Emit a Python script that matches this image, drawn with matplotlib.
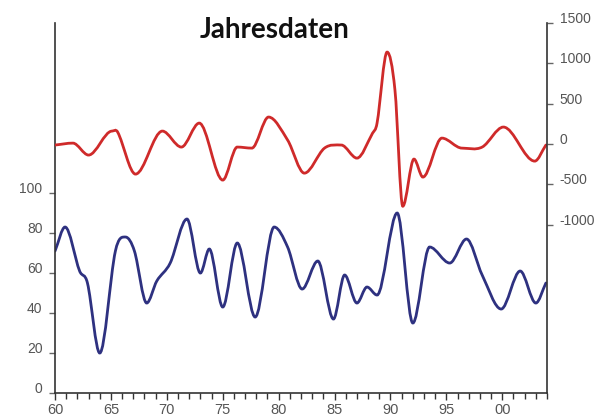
import numpy as np
import matplotlib
matplotlib.use("Agg")
import matplotlib.pyplot as plt
from matplotlib.path import Path
from matplotlib.patches import PathPatch

# ----------------------------------------------------
# Data
# ----------------------------------------------------

red_years = [60.0, 61.6, 63.0, 65.1, 65.6, 67.2, 69.6, 71.3, 72.9, 75.0,
             76.3, 77.6, 79.1, 80.8, 82.3, 84.1, 85.6, 87.0, 88.4, 88.8,
             89.7, 90.4, 91.1, 92.1, 92.9, 94.6, 96.4, 98.2, 100.1, 102.9,
             103.9]
red_values = [-12, 12, -136, 161, 149, -372, 161, -37, 260, -446,
              -37, -50, 335, 50, -360, -50, -12, -174, 136, 260,
              1140, 670, -770, -186, -409, 74, -50, -37, 211, -211,
              -12]

blue_years = [60.0, 60.9, 62.2, 62.9, 64.0, 65.4, 66.3, 67.1, 68.2, 69.1,
              70.3, 71.8, 73.0, 73.8, 75.0, 76.3, 77.9, 79.6, 80.8, 82.1,
              83.5, 84.9, 85.9, 87.0, 87.9, 88.8, 90.6, 92.0, 93.5, 95.3,
              96.8, 98.2, 99.9, 101.6, 103.0, 103.9]
blue_values = [71, 83, 61, 55, 20, 71, 78, 71, 45, 56,
               65, 87, 60, 72, 43, 75, 38, 83, 73, 52,
               66, 37, 59, 45, 53, 49, 90, 35, 73, 65,
               77, 59, 42, 61, 45, 55]

x_ticks = [60, 65, 70, 75, 80, 85, 90, 95, 100]
x_labels = ["60", "65", "70", "75", "80", "85", "90", "95", "00"]
left_ticks = [0, 20, 40, 60, 80, 100]
right_ticks = [-1000, -500, 0, 500, 1000, 1500]


def smooth_path(xs, ys):
    # cubic Hermite segments through the read points, flat at extrema
    xs = np.asarray(xs, float)
    ys = np.asarray(ys, float)
    n = len(xs)
    m = np.zeros(n)
    for i in range(n):
        if i == 0:
            m[i] = (ys[1] - ys[0]) / (xs[1] - xs[0])
        elif i == n - 1:
            m[i] = (ys[-1] - ys[-2]) / (xs[-1] - xs[-2])
        else:
            a = ys[i] - ys[i - 1]
            b = ys[i + 1] - ys[i]
            if a * b <= 0:
                m[i] = 0.0
            else:
                m[i] = (ys[i + 1] - ys[i - 1]) / (xs[i + 1] - xs[i - 1])
    verts = [(xs[0], ys[0])]
    codes = [Path.MOVETO]
    for i in range(n - 1):
        dx = (xs[i + 1] - xs[i]) / 3.0
        verts += [(xs[i] + dx, ys[i] + m[i] * dx),
                  (xs[i + 1] - dx, ys[i + 1] - m[i + 1] * dx),
                  (xs[i + 1], ys[i + 1])]
        codes += [Path.CURVE4] * 3
    return Path(verts, codes)


plt.rcParams["font.family"] = ["Liberation Sans", "DejaVu Sans"]
plt.rcParams["axes.unicode_minus"] = False

fig = plt.figure(figsize=(6.0, 4.19), dpi=100)
ax = fig.add_axes([0.0917, 0.062, 0.82, 0.883])
ax2 = ax.twinx()

ax.add_patch(PathPatch(smooth_path(blue_years, blue_values), fill=False,
                       edgecolor="#2e3180", linewidth=2.0, capstyle="round"))
ax2.add_patch(PathPatch(smooth_path(red_years, red_values), fill=False,
                        edgecolor="#cf2a2a", linewidth=2.0, capstyle="round"))

ax.set_xlim(60, 104)
ax.set_ylim(0, 185)
ax2.set_ylim(-3085, 1500)

spine_col = "#333333"
for s in ["top", "right"]:
    ax.spines[s].set_visible(False)
for s in ["top", "left", "bottom"]:
    ax2.spines[s].set_visible(False)
for s in ["left", "bottom"]:
    ax.spines[s].set_color(spine_col)
    ax.spines[s].set_linewidth(1.2)
ax2.spines["right"].set_color(spine_col)
ax2.spines["right"].set_linewidth(1.2)

ax.set_xticks(x_ticks)
ax.set_xticklabels(x_labels)
ax.set_xticks(np.arange(60, 105, 1), minor=True)
ax.tick_params(axis="x", which="major", length=5, width=1, color=spine_col,
               labelsize=10.5, labelcolor="#555555", pad=2)
ax.tick_params(axis="x", which="minor", length=4, width=1, color=spine_col)

ax.set_yticks(left_ticks)
ax.tick_params(axis="y", length=4, width=1, color="#666666",
               labelsize=10, labelcolor="#555555", pad=5)
for lab in ax.get_yticklabels():
    lab.set_verticalalignment("baseline")

ax2.set_yticks(right_ticks)
ax2.tick_params(axis="y", length=4, width=1, color="#666666",
                labelsize=10, labelcolor="#555555", pad=5)
for lab in ax2.get_yticklabels():
    lab.set_verticalalignment("baseline")

fig.text(0.458, 0.928, "Jahresdaten", ha="center", va="center",
         fontsize=20, fontweight="bold", family="Lato", color="#111111")

fig.savefig("out.png", dpi=100)
